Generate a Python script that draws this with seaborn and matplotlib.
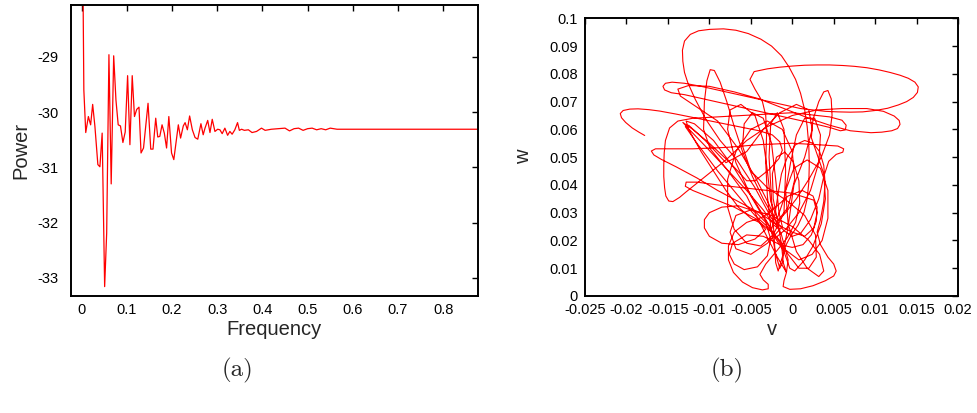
import matplotlib
matplotlib.use("Agg")
import matplotlib.pyplot as plt
import numpy as np
import pandas as pd
import seaborn as sns

# ---- power spectrum ----
freq = [0.003, 0.005, 0.0092, 0.0150, 0.0200, 0.0245, 0.0295, 0.0360, 0.0405, 0.0455,
        0.0510, 0.0555, 0.0605, 0.0655, 0.0710, 0.0760, 0.0810, 0.0860, 0.0914, 0.0965,
        0.1018, 0.1069, 0.1120, 0.1170, 0.1220, 0.1270, 0.1315, 0.1370, 0.1470, 0.1530,
        0.1580, 0.1640, 0.1685, 0.1730, 0.1780, 0.1830, 0.1880, 0.1930, 0.1990, 0.2040,
        0.2140, 0.2190, 0.2250, 0.2290, 0.2340, 0.2390, 0.2450, 0.2510, 0.2570, 0.2640,
        0.2690, 0.2730, 0.2790, 0.2840, 0.2890, 0.2950, 0.3010, 0.3060, 0.3110, 0.3170,
        0.3230, 0.3280, 0.3330, 0.3390, 0.3450, 0.3490, 0.3540, 0.3600, 0.3690, 0.3770,
        0.3870, 0.3980, 0.4060, 0.4200, 0.4350, 0.4500, 0.4600, 0.4700, 0.4800, 0.4900,
        0.5000, 0.5100, 0.5200, 0.5300, 0.5400, 0.5500, 0.5650, 0.6000, 0.7000, 0.8000,
        0.8800]
power = [-27.6, -29.60, -30.37, -30.08, -30.23, -29.86, -30.26, -30.95, -30.99, -30.38,
         -33.16, -32.19, -28.96, -31.30, -28.98, -29.78, -30.23, -30.25, -30.55, -30.36,
         -29.34, -30.59, -29.34, -30.08, -29.95, -29.91, -30.74, -30.65, -29.84, -30.67,
         -30.67, -30.11, -30.45, -30.44, -30.23, -30.38, -30.65, -30.08, -30.74, -30.86,
         -30.23, -30.47, -30.25, -30.19, -30.32, -30.07, -30.32, -30.46, -30.49, -30.21,
         -30.41, -30.29, -30.15, -30.37, -30.13, -30.35, -30.31, -30.32, -30.39, -30.29,
         -30.42, -30.35, -30.40, -30.32, -30.19, -30.33, -30.31, -30.33, -30.32, -30.37,
         -30.35, -30.29, -30.33, -30.31, -30.30, -30.29, -30.34, -30.30, -30.29, -30.33,
         -30.30, -30.29, -30.32, -30.30, -30.32, -30.29, -30.31, -30.31, -30.31, -30.31,
         -30.31]
freq_ticks = [0, 0.1, 0.2, 0.3, 0.4, 0.5, 0.6, 0.7, 0.8]
power_ticks = [-29, -30, -31, -32, -33]

# ---- phase-plane trajectory (v in units of 1e-3, w in units of 1e-2) ----
v_milli = [
    -17.8, -18.5, -19.3, -20.1, -20.6, -20.75, -20.4, -19.6, -18.6, -17.3,
    -16.0, -14.0, -11.5, -9.0, -6.5, -4.0, -2.4, -1.5, -1.2, -1.6,
    -2.8, -4.5, -5.5, -7.5, -10.0, -12.0, -13.2, -12.6, -10.5, -8.0,
    -5.5, -3.5, -2.2, -1.6, -2.5, -4.5, -6.7, -8.7, -10.4, -11.7,
    -12.6, -13.0, -13.2, -13.25, -13.0, -12.3, -11.3, -10.0, -8.3, -6.8,
    -5.3, -3.8, -2.5, -1.3, -0.4, 0.4, 1.0, 1.5, 1.8, 2.0,
    2.05, 2.0, 1.8, 1.4, 0.7, -0.2, -0.9, -1.2, -0.7, -1.0,
    -1.1, -0.3, 1.0, 2.5, 4.0, 5.0, 5.3, 5.0, 4.3, 3.4,
    3.0, 3.4, 3.8, 3.95, 3.8, 3.3, 2.5, 1.5, 0.4, -0.6,
    -1.3, -1.7, -2.0, -2.3, -2.5, -4.5, -7.0, -9.5, -11.8, -12.8,
    -12.5, -11.0, -9.5, -8.0, -6.5, -5.0, -4.0, -3.2, -4.5, -6.5,
    -8.5, -10.0, -10.6, -10.6, -10.0, -8.5, -6.5, -4.5, -3.2, -2.6,
    -3.0, -4.2, -5.8, -7.0, -7.6, -7.2, -5.5, -3.5, -1.5, 0.0,
    1.3, 2.3, 2.9, 3.0, 2.5, 1.2, -0.5, -2.0, -3.5, -5.5,
    -7.0, -7.7, -7.7, -7.1, -6.0, -4.8, -3.6, -2.9, -2.9, -3.5,
    -3.9, -3.2, -1.8, -0.6, 0.4, 0.9, 0.8, 0.1, -0.9, -1.9,
    -2.4, -2.3, -1.7, -1.3, -1.1, -1.5, -2.0, -2.6, -3.0, -3.2,
    -3.1, -3.2, -3.6, -4.5, -5.1, -4.6, -3.0, -1.5, 0.0, 1.5,
    3.0, 4.5, 6.1, 7.5, 9.0, 10.5, 11.8, 13.0, 14.0, 14.8,
    15.2, 15.1, 14.6, 13.8, 12.8, 11.5, 10.0, 8.5, 7.0, 5.5,
    4.0, 2.5, 1.0, -2.0, -5.0, -8.0, -11.0, -13.0, -14.5, -15.3,
    -15.6, -15.4, -14.6, -13.0, -10.0, -7.0, -4.0, -1.0, 2.0, 4.5,
    5.8, 6.4, 6.5, 6.0, 4.5, 3.0, 0.0, -3.0, -6.0, -9.0,
    -12.0, -13.8, -14.8, -15.3, -15.45, -15.5, -15.5, -15.4, -15.25, -14.9,
    -14.4, -13.6, -12.8, -10.5, -8.0, -5.5, -3.0, 0.0, 3.0, 6.0,
    9.0, 11.0, 12.3, 12.9, 13.0, 12.7, 12.0, 10.8, 9.5, 7.0,
    4.5, 2.0, -1.0, -4.0, -7.0, -10.0, -12.5, -13.8, -13.5, -11.5,
    -9.0, -6.5, -4.5, -2.8, -1.3, -0.5, -0.7, -1.8, -3.5, -5.5,
    -8.0, -9.9, -10.7, -10.6, -10.3, -9.9, -9.4, -8.7, -7.9, -7.0,
    -6.0, -4.8, -3.5, -2.2, -1.0, 0.0, 1.0, 2.2, 3.2, 3.8,
    4.4, 5.3, 6.1, 6.2, 5.5, 3.0, 0.0, -4.0, -8.0, -12.0,
    -15.0, -16.5, -17.0, -16.7, -15.8, -14.0, -11.5, -9.0, -6.5, -4.0,
    -2.0, 0.0, 1.5, 2.6, 3.0, 2.6, 0.0, -3.0, -6.0, -9.0,
    -11.5, -12.8, -12.9, -12.0, -9.5, -7.0, -4.5, -2.5, -1.0, -0.3,
    0.3, 1.5, 2.5, 3.5, 4.0, 3.8, 3.0, 2.3, 2.5, 3.2,
    3.8, 4.3, 4.7, 4.8, 4.5, 3.5, 2.0, 0.5, -0.8, -2.0,
    -0.5, 0.3, 0.0, -1.2, -3.0, -5.0, -6.8, -7.8, -7.8, -7.0,
    -5.5, -3.8, -2.3, -1.0, -0.8, -1.0, -1.8, -2.6, -2.8, -2.5,
    -2.2, -2.0, -1.7, -1.2, -0.5, 0.2, 1.5, 2.4, 2.0, 0.5,
    -1.5, -3.5, -5.5, -8.0, -10.5, -12.5, -12.9, -11.5, -9.0, -6.5,
    -4.5, -3.0, -1.5, -0.5, 0.8, 2.0, 2.9, 2.8, 1.5, -0.5,
    -3.0, -5.0, -6.0, -5.8, -4.8, -3.5, -2.5, -2.0, -1.6, -1.2,
    -3.0, -5.0, -6.8, -7.5, -6.8, -5.0, -2.5, 0.0, 2.0, 3.3,
    3.8, 3.2, 1.8, 0.5, -0.5, -0.8, 0.2, 1.8, 3.4, 4.3,
    4.3, 3.6, 2.4, 0.8, -1.0, -3.0, -5.0, -6.8, -7.8, -7.5,
    -6.2, -4.5, -3.5, -3.0, -2.6, -1.8, -1.0, -0.2, 0.5, 1.5,
    2.7, 3.4, 3.2, 2.2, 0.8, -0.8, -2.0]
w_centi = [
    5.78, 5.90, 6.05, 6.25, 6.42, 6.57, 6.68, 6.73, 6.74, 6.71,
    6.66, 6.55, 6.40, 6.25, 6.10, 5.95, 5.80, 5.55, 5.25, 4.95,
    4.55, 4.15, 4.15, 4.80, 5.50, 6.00, 6.25, 6.05, 5.40, 4.60,
    3.80, 3.10, 2.55, 2.40, 2.80, 3.90, 4.91, 5.60, 6.35, 7.08,
    7.68, 8.05, 8.45, 8.85, 9.18, 9.42, 9.55, 9.60, 9.62, 9.57,
    9.45, 9.25, 9.00, 8.65, 8.25, 7.80, 7.30, 6.70, 6.10, 5.40,
    4.70, 4.10, 3.50, 3.00, 2.55, 2.15, 1.75, 1.30, 0.85, 0.55,
    0.34, 0.24, 0.26, 0.37, 0.55, 0.72, 0.90, 1.15, 1.40, 1.85,
    2.30, 2.75, 3.40, 4.10, 4.70, 5.20, 5.50, 5.60, 5.45, 5.00,
    4.40, 3.70, 3.10, 2.60, 2.40, 3.40, 4.60, 5.60, 6.20, 6.30,
    6.00, 5.20, 4.50, 3.80, 3.20, 2.80, 2.65, 2.40, 2.05, 1.85,
    1.90, 2.15, 2.45, 2.75, 3.00, 3.20, 3.25, 3.05, 2.65, 2.05,
    1.45, 1.05, 0.95, 1.15, 1.50, 1.90, 2.20, 2.15, 1.85, 1.75,
    1.85, 2.20, 2.70, 3.20, 3.60, 3.80, 3.60, 3.20, 2.85, 2.65,
    2.30, 1.80, 1.30, 0.85, 0.50, 0.30, 0.22, 0.26, 0.42, 0.58,
    0.78, 1.15, 1.65, 2.10, 2.65, 3.35, 4.15, 4.85, 5.18, 5.00,
    4.40, 3.50, 2.60, 1.85, 1.25, 1.00, 1.50, 2.50, 3.60, 4.80,
    5.80, 6.50, 7.00, 7.45, 7.80, 8.08, 8.18, 8.24, 8.28, 8.31,
    8.32, 8.32, 8.30, 8.27, 8.22, 8.14, 8.05, 7.95, 7.84, 7.70,
    7.53, 7.33, 7.15, 7.00, 6.88, 6.76, 6.68, 6.63, 6.62, 6.63,
    6.65, 6.70, 6.75, 6.95, 7.15, 7.35, 7.55, 7.66, 7.70, 7.66,
    7.55, 7.42, 7.32, 7.25, 7.05, 6.85, 6.65, 6.45, 6.25, 6.07,
    5.95, 5.98, 6.15, 6.33, 6.45, 6.50, 6.60, 6.55, 6.50, 6.45,
    6.40, 6.30, 6.05, 5.60, 5.15, 4.70, 4.30, 3.90, 3.60, 3.42,
    3.40, 3.55, 3.75, 4.30, 4.90, 5.60, 6.10, 6.50, 6.70, 6.75,
    6.75, 6.65, 6.48, 6.32, 6.18, 6.03, 5.95, 5.90, 5.88, 5.95,
    6.15, 6.40, 6.75, 7.10, 7.35, 7.55, 7.58, 7.45, 7.20, 6.80,
    6.30, 5.30, 4.30, 3.30, 2.20, 1.30, 0.85, 1.40, 2.40, 3.60,
    4.60, 5.30, 6.00, 7.00, 7.75, 8.15, 8.12, 7.70, 7.00, 6.10,
    5.20, 4.30, 3.50, 2.80, 2.35, 2.15, 2.25, 2.75, 3.50, 4.30,
    4.85, 5.10, 5.18, 5.30, 5.40, 5.45, 5.50, 5.45, 5.35, 5.30,
    5.30, 5.30, 5.22, 5.08, 4.92, 4.65, 4.25, 3.80, 3.40, 3.00,
    2.60, 2.30, 2.15, 2.45, 3.00, 3.45, 3.70, 3.80, 3.90, 4.00,
    4.10, 4.10, 3.95, 3.80, 3.50, 3.20, 2.80, 2.30, 1.60, 1.00,
    0.90, 1.30, 1.80, 2.60, 3.50, 4.40, 5.10, 5.70, 6.35, 7.00,
    7.35, 7.40, 7.10, 6.50, 5.80, 5.00, 4.20, 3.50, 3.00, 2.60,
    3.20, 4.20, 5.20, 6.00, 6.30, 6.00, 5.20, 4.20, 3.20, 2.40,
    1.90, 1.80, 2.20, 3.00, 4.50, 6.00, 6.60, 6.20, 5.00, 3.50,
    2.20, 1.20, 0.90, 1.40, 2.50, 4.00, 5.00, 6.00, 6.70, 6.90,
    6.60, 6.00, 5.20, 4.80, 5.60, 6.15, 6.10, 5.50, 4.50, 3.60,
    2.90, 2.50, 2.00, 1.50, 1.00, 1.00, 1.40, 2.20, 2.90, 3.40,
    3.90, 4.50, 5.40, 6.20, 6.60, 6.40, 5.50, 4.20, 3.00, 2.50,
    1.90, 1.50, 1.70, 2.30, 2.90, 3.10, 2.90, 2.50, 2.00, 1.50,
    0.90, 0.70, 1.00, 1.60, 2.60, 3.80, 4.60, 4.90, 4.60, 3.80,
    2.80, 2.00, 1.50, 1.30, 1.70, 2.60, 3.60, 4.80, 6.00, 6.70,
    6.90, 6.50, 5.60, 4.50, 3.40, 2.80, 3.50, 4.80, 5.80, 6.40,
    6.40, 5.80, 4.80, 3.80, 3.00, 2.40, 2.10]
v_ticks = [-0.025, -0.02, -0.015, -0.01, -0.005, 0, 0.005, 0.01, 0.015, 0.02]
v_tick_labels = ["-0.025", "-0.02", "-0.015", "-0.01", "-0.005", "0", "0.005", "0.01", "0.015", "0.02"]
w_ticks = [0, 0.01, 0.02, 0.03, 0.04, 0.05, 0.06, 0.07, 0.08, 0.09, 0.1]
w_tick_labels = ["0", "0.01", "0.02", "0.03", "0.04", "0.05", "0.06", "0.07", "0.08", "0.09", "0.1"]

sns.set_theme(style="white")
plt.rcParams["font.family"] = ["Liberation Sans", "DejaVu Sans"]
plt.rcParams["axes.unicode_minus"] = False

fig = plt.figure(figsize=(9.77, 4.13), dpi=100)
ax1 = fig.add_axes([0.0724, 0.2833, 0.4169, 0.7046])
ax2 = fig.add_axes([0.5988, 0.2833, 0.3818, 0.6724])

spec = pd.DataFrame({"Frequency": freq, "Power": power})
sns.lineplot(data=spec, x="Frequency", y="Power", ax=ax1, color="#ff0000",
             linewidth=0.9, sort=False, estimator=None)
ax1.set_xlim(-0.024, 0.877)
ax1.set_ylim(-33.33, -28.06)
ax1.set_xticks(freq_ticks)
ax1.set_xticklabels([f"{t:g}" for t in freq_ticks])
ax1.set_yticks(power_ticks)
ax1.set_yticklabels([str(t) for t in power_ticks])
ax1.set_xlabel("Frequency", fontsize=14.5, labelpad=2)
ax1.set_ylabel("Power", fontsize=14.5, labelpad=5)
ax1.tick_params(axis="y", pad=9)

traj = pd.DataFrame({"v": np.array(v_milli) * 1e-3, "w": np.array(w_centi) * 1e-2})
sns.lineplot(data=traj, x="v", y="w", ax=ax2, color="#ff0000",
             linewidth=0.8, sort=False, estimator=None)
ax2.set_xlim(-0.025, 0.02)
ax2.set_ylim(0, 0.1)
ax2.set_xticks(v_ticks)
ax2.set_xticklabels(v_tick_labels)
ax2.set_yticks(w_ticks)
ax2.set_yticklabels(w_tick_labels)
ax2.set_xlabel("v", fontsize=14.5, labelpad=2)
ax2.set_ylabel("w", fontsize=14.5, labelpad=12)
ax2.tick_params(axis="y", pad=5)

for ax in (ax1, ax2):
    for s in ax.spines.values():
        s.set_visible(True)
        s.set_color("black")
        s.set_linewidth(1.4)
    ax.tick_params(direction="in", length=4, width=1, top=True, right=True,
                   labelsize=10.5, colors="black")
    ax.tick_params(axis="x", pad=5)

fig.text(237 / 977, 1 - 370 / 413, "(a)", family="cmr10", fontsize=18,
         ha="center", va="center")
fig.text(727 / 977, 1 - 370 / 413, "(b)", family="cmr10", fontsize=18,
         ha="center", va="center")

fig.savefig("out.png", dpi=100)
